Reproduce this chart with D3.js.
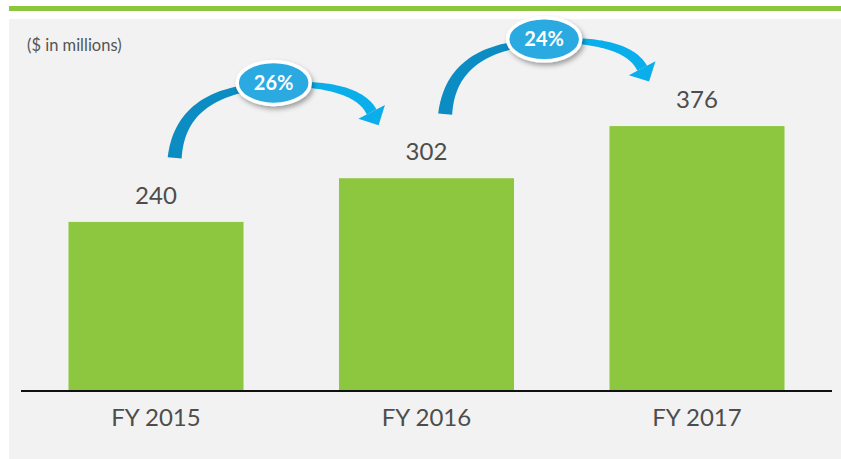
<!DOCTYPE html>
<html>
<head>
<meta charset="utf-8">
<script src="https://cdn.jsdelivr.net/npm/d3@7/dist/d3.min.js"></script>
<style>
  html, body { margin: 0; padding: 0; background: #ffffff; }
  svg { display: block; }
</style>
</head>
<body>
<div id="chart"></div>
<script>
// data
const categories = ["FY 2015", "FY 2016", "FY 2017"];
const revenue = [240, 302, 376];
const growth = ["26%", "24%"];
const unitNote = "($ in millions)";

const width = 841;
const height = 459;

const svg = d3.select("#chart")
    .append("svg")
    .attr("width", width)
    .attr("height", height);

const defs = svg.append("defs");
const shadow = defs.append("filter")
    .attr("id", "bubbleShadow")
    .attr("x", "-30%").attr("y", "-30%")
    .attr("width", "160%").attr("height", "170%");
shadow.append("feDropShadow")
    .attr("dx", 2).attr("dy", 3)
    .attr("stdDeviation", 2.5)
    .attr("flood-color", "#000")
    .attr("flood-opacity", 0.35);

// green rule + grey panel
svg.append("rect")
    .attr("x", 9).attr("y", 6)
    .attr("width", width - 9).attr("height", 5)
    .attr("fill", "#8cc63f");

svg.append("rect")
    .attr("x", 9).attr("y", 19)
    .attr("width", width - 9).attr("height", height - 19)
    .attr("fill", "#f1f2f1");

const baseY = 391;

const x = d3.scaleBand()
    .domain(categories)
    .range([21, 832])
    .paddingInner(0.353)
    .paddingOuter(0.1756);

const y = d3.scaleLinear()
    .domain([0, 528])
    .range([baseY, 19]);

const fontFam = "Lato, 'Open Sans', 'DejaVu Sans', sans-serif";

svg.append("text")
    .attr("x", 27)
    .attr("y", 51)
    .attr("font-family", fontFam)
    .attr("font-size", 16.5)
    .attr("fill", "#555")
    .text(unitNote);

// bars
svg.selectAll("rect.bar")
    .data(revenue)
    .enter()
    .append("rect")
    .attr("class", "bar")
    .attr("x", (d, i) => x(categories[i]))
    .attr("y", d => y(d))
    .attr("width", x.bandwidth())
    .attr("height", d => y(0) - y(d))
    .attr("fill", "#8dc63f");

// value labels
svg.selectAll("text.val")
    .data(revenue)
    .enter()
    .append("text")
    .attr("class", "val")
    .attr("x", (d, i) => x(categories[i]) + x.bandwidth() / 2)
    .attr("y", d => y(d) - 18)
    .attr("text-anchor", "middle")
    .attr("font-family", fontFam)
    .attr("font-size", 24)
    .attr("fill", "#4d4d4d")
    .text(d => d);

// baseline axis
const xAxis = svg.append("g")
    .attr("transform", `translate(0,${baseY})`)
    .call(d3.axisBottom(x).tickSize(0).tickPadding(0));
xAxis.select(".domain")
    .attr("d", "M21,0H832")
    .attr("stroke", "#111")
    .attr("stroke-width", 2.2);
xAxis.selectAll("text")
    .attr("y", 35)
    .attr("dy", 0)
    .attr("font-family", fontFam)
    .attr("font-size", 24)
    .attr("fill", "#4d4d4d");

// tapered band along a quadratic curve
function band(p0, c, p1, w0, w1) {
    const n = 30, left = [], right = [];
    for (let k = 0; k <= n; k++) {
        const t = k / n, u = 1 - t;
        const px = u * u * p0[0] + 2 * u * t * c[0] + t * t * p1[0];
        const py = u * u * p0[1] + 2 * u * t * c[1] + t * t * p1[1];
        const dx = 2 * u * (c[0] - p0[0]) + 2 * t * (p1[0] - c[0]);
        const dy = 2 * u * (c[1] - p0[1]) + 2 * t * (p1[1] - c[1]);
        const len = Math.hypot(dx, dy) || 1;
        const w = (w0 + (w1 - w0) * t) / 2;
        const nx = -dy / len, ny = dx / len;
        left.push([px + nx * w, py + ny * w]);
        right.push([px - nx * w, py - ny * w]);
    }
    return left.concat(right.reverse());
}

const line = d3.line().curve(d3.curveLinearClosed);

growth.forEach((g, i) => {
    const cx = x(categories[i]) + x.bandwidth() / 2 + x.step() * 0.435;
    const cy = y(revenue[i]) - 139;
    const grp = svg.append("g").attr("transform", `translate(${cx},${cy})`);

    // rising band into the bubble
    grp.append("path")
        .attr("d", line(band([-99, 75], [-94, 18], [-30, 6], 14, 7)))
        .attr("fill", "#0b8dc4");

    // falling band out of the bubble with arrow head
    const end = [98, 29], ctl = [86, 6];
    grp.append("path")
        .attr("d", line(band([36, 2], ctl, end, 6, 11)))
        .attr("fill", "#0aaeea");
    const dx = end[0] - ctl[0], dy = end[1] - ctl[1];
    const len = Math.hypot(dx, dy);
    const ux = dx / len, uy = dy / len, nx = -uy, ny = ux;
    grp.append("path")
        .attr("d", line([
            [end[0] + nx * 15, end[1] + ny * 15],
            [end[0] + ux * 15, end[1] + uy * 15],
            [end[0] - nx * 15, end[1] - ny * 15]
        ]))
        .attr("fill", "#0aaeea");

    grp.append("ellipse")
        .attr("rx", 36.5).attr("ry", 21.5)
        .attr("fill", "#29aae1")
        .attr("stroke", "#fff")
        .attr("stroke-width", 3.5)
        .attr("filter", "url(#bubbleShadow)");

    grp.append("text")
        .attr("y", 7)
        .attr("text-anchor", "middle")
        .attr("font-family", fontFam)
        .attr("font-weight", "bold")
        .attr("font-size", 20)
        .attr("fill", "#fff")
        .text(g);
});
</script>
</body>
</html>
